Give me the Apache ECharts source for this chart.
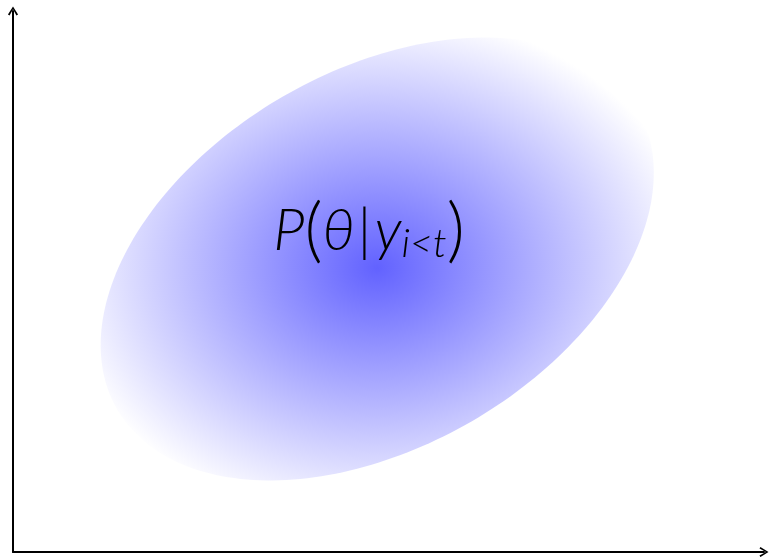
<!DOCTYPE html>
<html>
<head>
<meta charset="utf-8">
<script src="https://cdn.jsdelivr.net/npm/echarts@6/dist/echarts.min.js"></script>
<style>
  html, body { margin: 0; padding: 0; background: #ffffff; }
  #chart { width: 769px; height: 557px; }
</style>
</head>
<body>
<div id="chart"></div>
<script>
// Plot extent (data units)
const xRange = [0, 10];
const yRange = [0, 7.2];

// Posterior density ellipse: centre, semi-axes and tilt (degrees)
const ellipseCenter = [4.85, 3.9];
const ellipseRadii = [4.0, 2.5];
const ellipseAngle = [30];

// Shading colours, centre to rim
const shadeColors = ['#6262ff', '#ffffff'];

// Annotation
const labelPos = [4.74, 4.27];
const labelParts = ['P', '(', 'θ', '|', 'y', 'i<t', ')'];

const chart = echarts.init(document.getElementById('chart'), null, { renderer: 'canvas' });

// open chevron arrow head, pointing along the axis
const arrowHead = 'path://M0,8 L5,0 L10,8 L8.4,8.9 L5,2.6 L1.6,8.9 Z';

function axisCommon(range) {
  return {
    type: 'value',
    min: range[0],
    max: range[1],
    axisLine: {
      show: true,
      onZero: false,
      symbol: ['none', arrowHead],
      symbolSize: [11, 9],
      lineStyle: { color: '#000000', width: 2 }
    },
    axisTick: { show: false },
    axisLabel: { show: false },
    splitLine: { show: false }
  };
}

function renderEllipse(params, api) {
  const cx = api.value(0), cy = api.value(1);
  const a = api.value(2), b = api.value(3);
  const phi = api.value(4) * Math.PI / 180;
  const c = api.coord([cx, cy]);
  const ux = api.size([1, 0])[0];
  const uy = api.size([0, 1])[1];
  // half extents of the tilted ellipse's bounding box, in pixels
  const W = Math.sqrt(Math.pow(a * Math.cos(phi) * ux, 2) + Math.pow(b * Math.sin(phi) * ux, 2));
  const H = Math.sqrt(Math.pow(a * Math.sin(phi) * uy, 2) + Math.pow(b * Math.cos(phi) * uy, 2));
  const k = H / W;
  const pts = [];
  const n = 240;
  for (let i = 0; i < n; i++) {
    const t = 2 * Math.PI * i / n;
    const x = cx + a * Math.cos(t) * Math.cos(phi) - b * Math.sin(t) * Math.sin(phi);
    const y = cy + a * Math.cos(t) * Math.sin(phi) + b * Math.sin(t) * Math.cos(phi);
    const p = api.coord([x, y]);
    pts.push([p[0] - c[0], (p[1] - c[1]) / k]);
  }
  return {
    type: 'group',
    x: c[0],
    y: c[1],
    scaleY: k,
    children: [{
      type: 'polygon',
      shape: { points: pts },
      style: {
        fill: {
          type: 'radial', x: 0, y: 0.04 * W, r: W * 1.16, global: true,
          colorStops: [
            { offset: 0, color: shadeColors[0] },
            { offset: 1, color: shadeColors[1] }
          ]
        },
        stroke: null
      }
    }]
  };
}

const mathFont = 'Lato, "Open Sans", sans-serif';

function renderLabel(params, api) {
  const p = api.coord([api.value(0), api.value(1)]);
  const t = labelParts;
  return {
    type: 'text',
    x: p[0],
    y: p[1],
    z2: 10,
    style: {
      text: '{it|' + t[0] + '}{par|' + t[1] + '}{it|' + t[2] + '}{bar|' + t[3] + '}{it|' + t[4] + '}{sub|' + t[5] + '}{par|' + t[6] + '}',
      align: 'center',
      verticalAlign: 'middle',
      fill: '#000000',
      rich: {
        it: { fontFamily: mathFont, fontWeight: 300, fontStyle: 'italic', fontSize: 58, lineHeight: 66, fill: '#000' },
        par: { fontFamily: mathFont, fontWeight: 300, fontSize: 70, lineHeight: 66, fill: '#000' },
        bar: { fontFamily: mathFont, fontWeight: 300, fontSize: 58, lineHeight: 66, padding: [0, 3, 0, 3], fill: '#000' },
        sub: { fontFamily: mathFont, fontWeight: 300, fontStyle: 'italic', fontSize: 40, lineHeight: 42, verticalAlign: 'bottom', fill: '#000' }
      }
    }
  };
}

chart.setOption({
  animation: false,
  backgroundColor: '#ffffff',
  grid: { left: 13, right: 5, top: 11, bottom: 5 },
  xAxis: axisCommon(xRange),
  yAxis: axisCommon(yRange),
  series: [
    {
      type: 'custom',
      renderItem: renderEllipse,
      data: [[ellipseCenter[0], ellipseCenter[1], ellipseRadii[0], ellipseRadii[1], ellipseAngle[0]]],
      silent: true
    },
    {
      type: 'custom',
      renderItem: renderLabel,
      data: [labelPos],
      silent: true,
      z: 3
    }
  ]
});
</script>
</body>
</html>
